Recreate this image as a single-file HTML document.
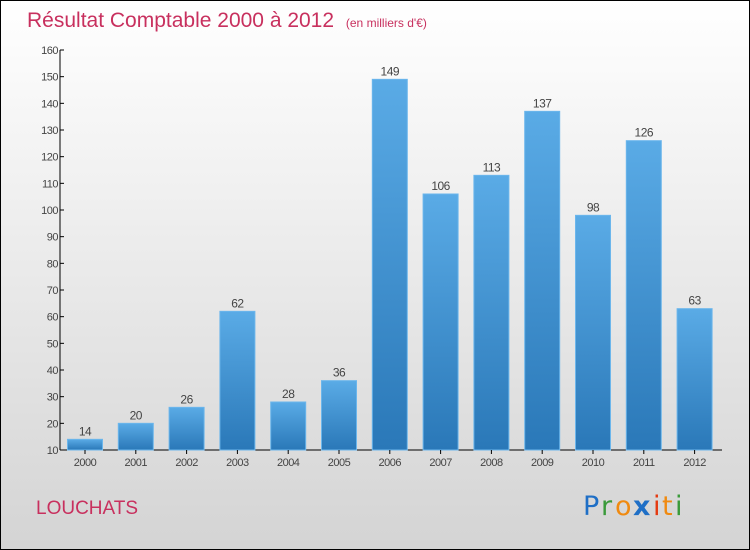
<!DOCTYPE html>
<html><head><meta charset="utf-8"><style>
body{margin:0}
#c{width:750px;height:550px;position:relative;box-sizing:border-box;border:1px solid #000;background:linear-gradient(#ffffff,#d4d4d4);font-family:"Liberation Sans",sans-serif;overflow:hidden}
</style></head><body>
<div id="c">
<svg width="750" height="550" style="position:absolute;left:-1px;top:-1px">
<defs><linearGradient id="bg" x1="0" y1="0" x2="0" y2="1"><stop offset="0" stop-color="#5aabe6"/><stop offset="1" stop-color="#2a78b8"/></linearGradient></defs>
<text x="27" y="27" font-size="21" fill="#c8305e">Résultat Comptable 2000 à 2012 <tspan font-size="12" dx="6">(en milliers d'€)</tspan></text>
<g id="plot"></g>
<text x="36" y="514" font-size="19" fill="#c8305e">LOUCHATS</text>
<g font-size="27" font-family="'DejaVu Sans',sans-serif">
<text x="583" y="515" fill="#1f6fc6">P</text><text x="601" y="515" fill="#3a9a3a">r</text><text x="615" y="515" fill="#f08a10">o</text><text x="633" y="515" fill="#1f6fc6" font-weight="bold">x</text><text x="653" y="515" fill="#e53a10">i</text><text x="662" y="515" fill="#f08a10">t</text><text x="675" y="515" fill="#3a9a3a">i</text>
</g>
</svg>
</div>
<script>
const years=["2000","2001","2002","2003","2004","2005","2006","2007","2008","2009","2010","2011","2012"];
const values=[14,20,26,62,28,36,149,106,113,137,98,126,63];
const yTicks=[10,20,30,40,50,60,70,80,90,100,110,120,130,140,150,160];
const NS="http://www.w3.org/2000/svg";
const g=document.getElementById('plot');
const y=v=>450-(v-10)*400/150;
const x=i=>85+i*50.8;
function mk(t,a,txt){const e=document.createElementNS(NS,t);for(const k in a)e.setAttribute(k,a[k]);if(txt!=null)e.textContent=txt;g.appendChild(e);return e;}
let ax=mk('line',{x1:60,y1:50,x2:60,y2:450,stroke:'#000'});


let xa=mk('line',{x1:60,y1:450,x2:722,y2:450,stroke:'#000'});


yTicks.forEach(v=>{
 let t=mk('line',{x1:60,y1:y(v),x2:64,y2:y(v),stroke:'#000'});
 
 
 let l=mk('text',{x:58,y:y(v)+4,'font-size':11,fill:'#444','text-anchor':'end','letter-spacing':'-0.5'},String(v));
 
 
});
values.forEach((v,i)=>{
 let b=mk('rect',{x:x(i)-17.5,y:y(v),width:35,height:450-y(v),fill:'url(#bg)',stroke:'#6bb6ec','stroke-width':1});
 
 
 let vl=mk('text',{x:x(i),y:y(v)-4,'font-size':12,fill:'#444','text-anchor':'middle','letter-spacing':'-0.5'},String(v));
 
 
 let tk=mk('line',{x1:x(i),y1:450,x2:x(i),y2:454,stroke:'#000'});
 
 
 let xl=mk('text',{x:x(i),y:466,'font-size':11,fill:'#444','text-anchor':'middle','letter-spacing':'-0.5'},years[i]);
 
 
});
</script>
</body></html>
